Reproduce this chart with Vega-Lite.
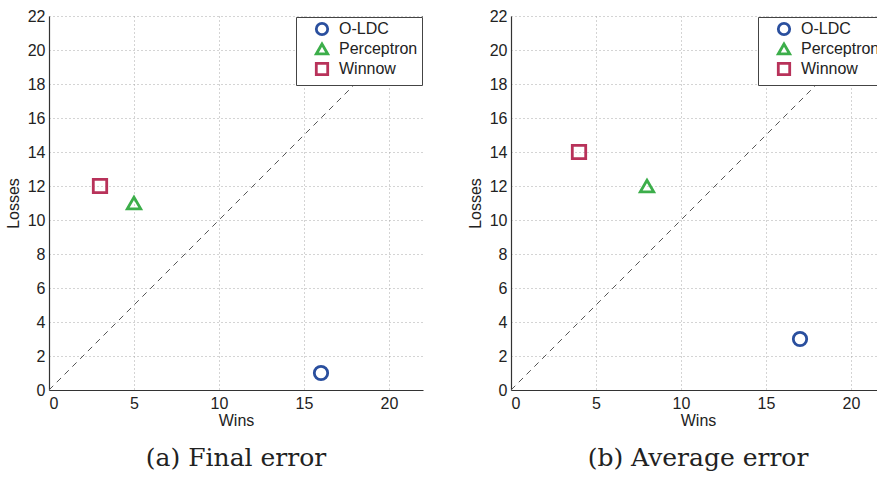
{
  "$schema": "https://vega.github.io/schema/vega-lite/v6.json",
  "padding": {"left": 5, "top": 8, "right": 0, "bottom": 0},
  "background": "white",
  "datasets": {
    "pts": [
      {"panel": "a", "method": "O-LDC", "wins": 16, "losses": 1},
      {"panel": "a", "method": "Perceptron", "wins": 5, "losses": 11},
      {"panel": "a", "method": "Winnow", "wins": 3, "losses": 12},
      {"panel": "b", "method": "O-LDC", "wins": 17, "losses": 3},
      {"panel": "b", "method": "Perceptron", "wins": 8, "losses": 12},
      {"panel": "b", "method": "Winnow", "wins": 4, "losses": 14}
    ],
    "diag": [
      {"wins": 0, "losses": 0},
      {"wins": 22, "losses": 22}
    ]
  },
  "config": {
    "view": {"stroke": null},
    "font": "Liberation Sans",
    "axis": {
      "domainColor": "#333333",
      "domainWidth": 1.2,
      "tickColor": "#333333",
      "tickSize": 0,
      "labelFont": "Liberation Sans",
      "labelFontSize": 16,
      "labelColor": "#222222",
      "labelOverlap": false,
      "titleFont": "Liberation Sans",
      "titleFontSize": 16,
      "titleFontWeight": "normal",
      "titleColor": "#222222",
      "grid": true,
      "gridColor": "#a8a8a8",
      "gridDash": [1, 3],
      "gridWidth": 1
    },
    "legend": {
      "labelFont": "Liberation Sans",
      "labelFontSize": 16,
      "labelColor": "#222222"
    },
    "title": {
      "font": "DejaVu Serif",
      "fontSize": 25,
      "fontWeight": "normal",
      "color": "#222222"
    }
  },
  "spacing": 42,
  "resolve": {"legend": {"color": "independent", "shape": "independent"}},
  "hconcat": [
    {
      "width": 374,
      "height": 374,
      "title": {"text": "(a) Final error", "orient": "bottom", "offset": 18},
      "encoding": {
        "x": {"field": "wins", "type": "quantitative", "title": "Wins",
              "scale": {"domain": [0, 22], "nice": false},
              "axis": {"values": [0, 5, 10, 15, 20], "labelPadding": 5, "titlePadding": 1}},
        "y": {"field": "losses", "type": "quantitative", "title": "Losses",
              "scale": {"domain": [0, 22], "nice": false},
              "axis": {"values": [0, 2, 4, 6, 8, 10, 12, 14, 16, 18, 20, 22], "labelPadding": 4, "titlePadding": 6}}
      },
      "layer": [
        {
          "data": {"name": "diag"},
          "mark": {"type": "line", "color": "#555555", "strokeDash": [6, 5], "strokeWidth": 1}
        },
        {
          "data": {"name": "pts"},
          "transform": [{"filter": "datum.panel === 'a'"}],
          "mark": {"type": "point", "filled": false, "strokeWidth": 2.8, "size": 180, "opacity": 1},
          "encoding": {
            "color": {"field": "method", "type": "nominal",
                      "scale": {"domain": ["O-LDC", "Perceptron", "Winnow"], "range": ["#2a4f9e", "#3cae4a", "#b8325a"]},
                      "legend": {"orient": "top-right", "title": null, "offset": 1, "strokeColor": "#444444", "fillColor": "white", "padding": 4, "rowPadding": -3, "symbolSize": 130, "symbolStrokeWidth": 2.8, "symbolOffset": 14, "labelOffset": 9}},
            "shape": {"field": "method", "type": "nominal",
                      "scale": {"domain": ["O-LDC", "Perceptron", "Winnow"], "range": ["circle", "triangle-up", "square"]},
                      "legend": {"orient": "top-right", "title": null, "offset": 1, "strokeColor": "#444444", "fillColor": "white", "padding": 4, "rowPadding": -3, "symbolSize": 130, "symbolStrokeWidth": 2.8, "symbolOffset": 14, "labelOffset": 9}}
          }
        }
      ]
    },
    {
      "width": 374,
      "height": 374,
      "title": {"text": "(b) Average error", "orient": "bottom", "offset": 18},
      "encoding": {
        "x": {"field": "wins", "type": "quantitative", "title": "Wins",
              "scale": {"domain": [0, 22], "nice": false},
              "axis": {"values": [0, 5, 10, 15, 20], "labelPadding": 5, "titlePadding": 1}},
        "y": {"field": "losses", "type": "quantitative", "title": "Losses",
              "scale": {"domain": [0, 22], "nice": false},
              "axis": {"values": [0, 2, 4, 6, 8, 10, 12, 14, 16, 18, 20, 22], "labelPadding": 4, "titlePadding": 6}}
      },
      "layer": [
        {
          "data": {"name": "diag"},
          "mark": {"type": "line", "color": "#555555", "strokeDash": [6, 5], "strokeWidth": 1}
        },
        {
          "data": {"name": "pts"},
          "transform": [{"filter": "datum.panel === 'b'"}],
          "mark": {"type": "point", "filled": false, "strokeWidth": 2.8, "size": 180, "opacity": 1},
          "encoding": {
            "color": {"field": "method", "type": "nominal",
                      "scale": {"domain": ["O-LDC", "Perceptron", "Winnow"], "range": ["#2a4f9e", "#3cae4a", "#b8325a"]},
                      "legend": {"orient": "top-right", "title": null, "offset": 1, "strokeColor": "#444444", "fillColor": "white", "padding": 4, "rowPadding": -3, "symbolSize": 130, "symbolStrokeWidth": 2.8, "symbolOffset": 14, "labelOffset": 9}},
            "shape": {"field": "method", "type": "nominal",
                      "scale": {"domain": ["O-LDC", "Perceptron", "Winnow"], "range": ["circle", "triangle-up", "square"]},
                      "legend": {"orient": "top-right", "title": null, "offset": 1, "strokeColor": "#444444", "fillColor": "white", "padding": 4, "rowPadding": -3, "symbolSize": 130, "symbolStrokeWidth": 2.8, "symbolOffset": 14, "labelOffset": 9}}
          }
        }
      ]
    }
  ]
}
